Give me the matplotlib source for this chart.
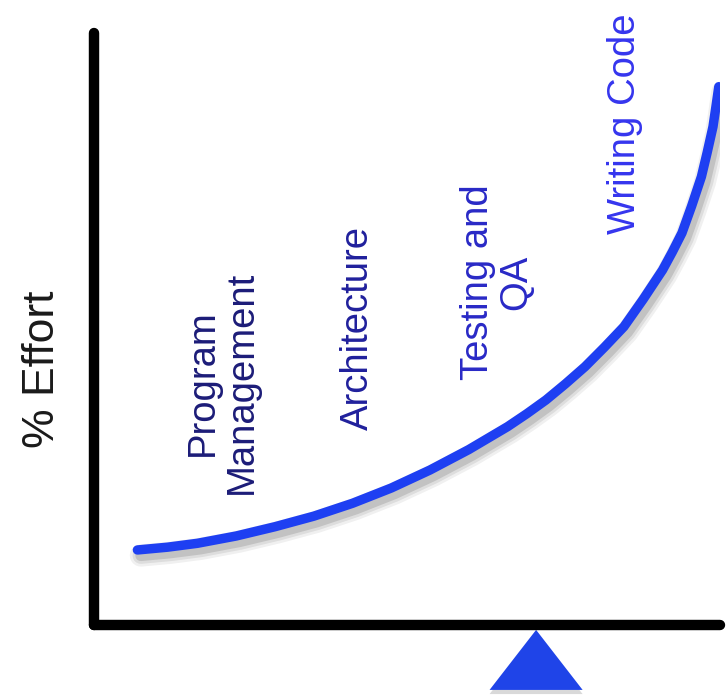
import matplotlib
matplotlib.use("Agg")
import matplotlib.pyplot as plt
import matplotlib.patheffects as pe

plt.rcParams['font.family'] = ['Liberation Sans', 'DejaVu Sans']

# Effort curve (x: project phase 0-100, y: % effort 0-100)
phase = [6.86, 11.67, 16.47, 22.65, 28.86, 35.06, 41.26, 47.45, 53.64, 59.84,
		 66.04, 69.11, 72.18, 75.30, 78.42, 81.53, 84.64, 87.72, 90.82, 92.37,
		 93.92, 95.48, 97.03, 97.95, 98.88, 99.34, 99.81]
effort = [12.67, 13.14, 13.80, 15.03, 16.60, 18.38, 20.56, 23.14, 26.18, 29.63,
		  33.50, 35.68, 38.01, 40.74, 43.63, 46.93, 50.39, 55.02, 59.97, 62.99,
		  66.22, 70.81, 75.73, 79.81, 84.17, 87.47, 90.93]

# Activity labels placed inside the plot
labels = ["Program\nManagement", "Architecture", "Testing and\nQA", "Writing Code"]
label_x = [20.4, 42.1, 64.4, 84.8]
label_y = [40.9, 50.2, 57.9, 84.7]
label_colors = ['#1c1c78', '#20209c', '#2929c6', '#3535ee']

# Pointer under the x axis
marker_phase = [70.6]
marker_level = [-5.9]

curve_color = '#1e3ff2'

fig = plt.figure(figsize=(7.28, 6.99), dpi=100)
ax = fig.add_axes([0.1298, 0.1059, 0.8592, 0.8469])
ax.set_xlim(0, 100)
ax.set_ylim(0, 100)

# axes: only left and bottom, thick and black
for side in ['top', 'right']:
	ax.spines[side].set_visible(False)
for side in ['left', 'bottom']:
	ax.spines[side].set_linewidth(7.5)
	ax.spines[side].set_capstyle('round')
ax.set_xticks([])
ax.set_yticks([])

# soft drop shadow, stacked to fake a blur
shadow = [
	pe.SimpleLineShadow(offset=(2.5, -4), shadow_color='black', alpha=0.06, linewidth=16),
	pe.SimpleLineShadow(offset=(2.5, -4), shadow_color='black', alpha=0.08, linewidth=12),
	pe.SimpleLineShadow(offset=(2.5, -4), shadow_color='black', alpha=0.12, linewidth=8),
	pe.Normal(),
]
ax.plot(phase, effort, color=curve_color, lw=6.8, solid_capstyle='round',
		solid_joinstyle='round', path_effects=shadow, zorder=3)

for txt, x, y, c in zip(labels, label_x, label_y, label_colors):
	ax.text(x, y, txt, rotation=90, ha='center', va='center', multialignment='center',
			fontsize=27.5, color=c, linespacing=1.1, zorder=4)

ax.text(-0.083, 0.4324, "% Effort", transform=ax.transAxes, rotation=90,
		ha='center', va='center', fontsize=32, color='#1a1a1a')

# triangle pointer (wider than tall)
tri = [(0, 0.645), (-1, -0.645), (1, -0.645), (0, 0.645)]
ax.plot(marker_phase, marker_level, linestyle='none', marker=tri, markersize=67,
		color='#1f44e8', markeredgewidth=0, clip_on=False,
		path_effects=[pe.SimplePatchShadow(offset=(0, -3), shadow_rgbFace='black', alpha=0.15),
					  pe.Normal()])

plt.savefig("out.png", dpi=100)
